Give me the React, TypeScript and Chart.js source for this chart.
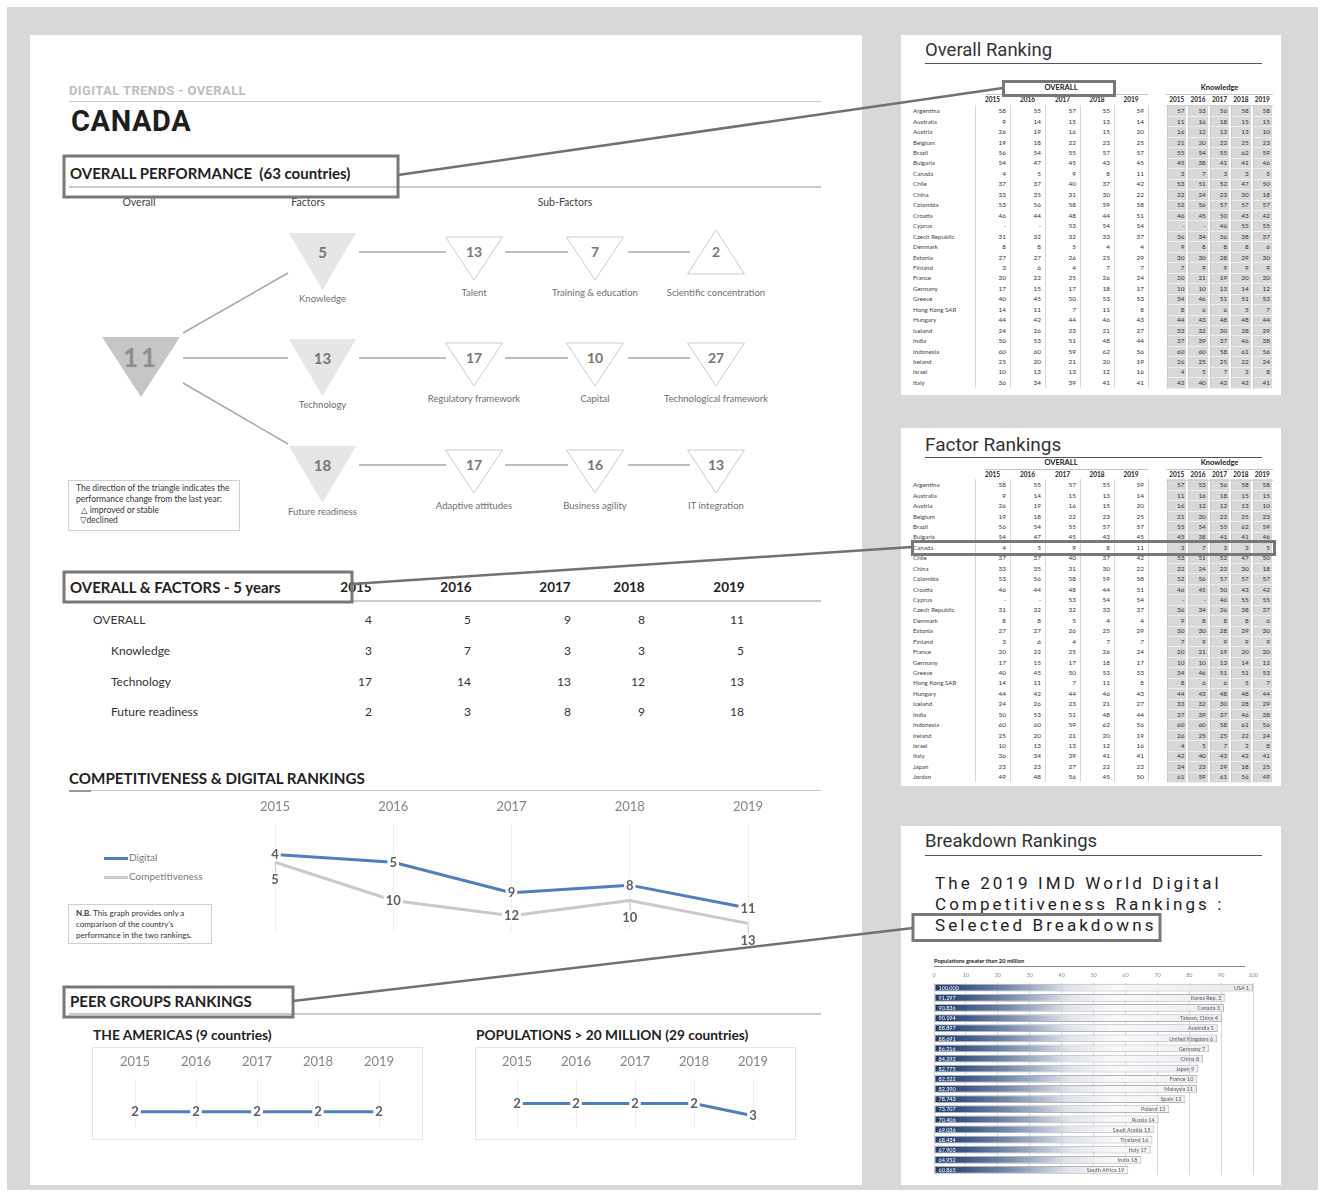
import React, { useEffect, useRef } from 'react';
import { Chart, registerables } from 'chart.js';
Chart.register(...registerables);

const GILL = "Lato, 'Open Sans', 'DejaVu Sans', sans-serif";
const DIN = "Roboto, 'DejaVu Sans', sans-serif";

// ---------- DATA ----------
const YEARS = ['2015', '2016', '2017', '2018', '2019'];
const DIGITAL_RANKS = [4, 5, 9, 8, 11];
const COMPETITIVENESS_RANKS = [5, 10, 12, 10, 13];
const AMERICAS_RANKS = [2, 2, 2, 2, 2];
const POP20M_RANKS = [2, 2, 2, 2, 3];

const FIVE_YEAR_ROWS = ['OVERALL', 'Knowledge', 'Technology', 'Future readiness'];
const FIVE_YEAR_VALUES = [
  [4, 5, 9, 8, 11],
  [3, 7, 3, 3, 5],
  [17, 14, 13, 12, 13],
  [2, 3, 8, 9, 18],
];

const OVERALL_RANK = 11;
const FACTOR_NAMES = ['Knowledge', 'Technology', 'Future readiness'];
const FACTOR_RANKS = [5, 13, 18];
const SUBFACTOR_NAMES = [
  ['Talent', 'Training & education', 'Scientific concentration'],
  ['Regulatory framework', 'Capital', 'Technological framework'],
  ['Adaptive attitudes', 'Business agility', 'IT integration'],
];
const SUBFACTOR_RANKS = [
  [13, 7, 2],
  [17, 10, 27],
  [17, 16, 13],
];
const SUBFACTOR_IMPROVED = [
  [false, false, true],
  [false, false, false],
  [false, false, false],
];

const COUNTRIES = [
  'Argentina', 'Australia', 'Austria', 'Belgium', 'Brazil', 'Bulgaria', 'Canada', 'Chile', 'China',
  'Colombia', 'Croatia', 'Cyprus', 'Czech Republic', 'Denmark', 'Estonia', 'Finland', 'France',
  'Germany', 'Greece', 'Hong Kong SAR', 'Hungary', 'Iceland', 'India', 'Indonesia', 'Ireland',
  'Israel', 'Italy', 'Japan', 'Jordan',
];
const OVERALL_TABLE: (number | null)[][] = [
  [58, 55, 57, 55, 59], [9, 14, 15, 13, 14], [26, 19, 16, 15, 20], [19, 18, 22, 23, 25],
  [56, 54, 55, 57, 57], [54, 47, 45, 43, 45], [4, 5, 9, 8, 11], [37, 37, 40, 37, 42],
  [33, 35, 31, 30, 22], [53, 56, 58, 59, 58], [46, 44, 48, 44, 51], [null, null, 53, 54, 54],
  [31, 32, 32, 33, 37], [8, 8, 5, 4, 4], [27, 27, 26, 25, 29], [3, 6, 4, 7, 7],
  [20, 22, 25, 26, 24], [17, 15, 17, 18, 17], [40, 45, 50, 53, 53], [14, 11, 7, 11, 8],
  [44, 42, 44, 46, 43], [24, 26, 23, 21, 27], [50, 53, 51, 48, 44], [60, 60, 59, 62, 56],
  [25, 20, 21, 20, 19], [10, 13, 13, 12, 16], [36, 34, 39, 41, 41], [23, 23, 27, 22, 23],
  [49, 48, 56, 45, 50],
];
const KNOWLEDGE_TABLE: (number | null)[][] = [
  [57, 53, 56, 58, 58], [11, 16, 18, 15, 15], [16, 12, 12, 13, 10], [21, 20, 22, 25, 23],
  [55, 54, 55, 62, 59], [45, 38, 41, 41, 46], [3, 7, 3, 3, 5], [53, 51, 52, 47, 50],
  [22, 24, 23, 30, 18], [52, 56, 57, 57, 57], [46, 45, 50, 43, 42], [null, null, 46, 55, 55],
  [36, 34, 36, 38, 37], [9, 8, 8, 8, 6], [30, 30, 28, 29, 30], [7, 9, 9, 9, 9],
  [20, 21, 19, 20, 20], [10, 10, 13, 14, 12], [34, 46, 51, 51, 53], [8, 6, 6, 5, 7],
  [44, 43, 48, 48, 44], [33, 32, 30, 28, 29], [37, 39, 37, 46, 38], [60, 60, 58, 61, 56],
  [26, 25, 25, 22, 24], [4, 5, 7, 2, 8], [42, 40, 42, 42, 41], [24, 23, 29, 18, 25],
  [61, 59, 61, 56, 49],
];

const BD_NAMES = [
  'USA', 'Korea Rep.', 'Canada', 'Taiwan, China', 'Australia', 'United Kingdom', 'Germany', 'China',
  'Japan', 'France', 'Malaysia', 'Spain', 'Poland', 'Russia', 'Saudi Arabia', 'Thailand', 'Italy',
  'India', 'South Africa',
];
const BD_RANKS = [1, 2, 3, 4, 5, 6, 7, 8, 9, 10, 11, 12, 13, 14, 15, 16, 17, 18, 19];
const BD_SCORES = [
  100.0, 91.297, 90.836, 90.194, 88.897, 88.691, 86.216, 84.292, 82.775, 82.522, 82.39, 78.743,
  73.707, 70.406, 69.036, 68.434, 67.903, 64.952, 60.865,
];
const BD_TICKS = [0, 10, 20, 30, 40, 50, 60, 70, 80, 90, 100];

// ---------- helpers ----------
function T(props: any) {
  const { x, y, s, w = 400, c = '#333', f = GILL, a = 'left', ls, children, style } = props;
  const tx = a === 'left' ? '0' : a === 'center' ? '-50%' : '-100%';
  return (
    <div
      style={{
        position: 'absolute', left: x, top: y, transform: `translate(${tx}, -50%)`,
        fontSize: s, fontWeight: w, color: c, fontFamily: f, whiteSpace: 'nowrap',
        lineHeight: 1.15, letterSpacing: ls, ...style,
      }}
    >
      {children}
    </div>
  );
}

function Box(props: any) {
  const { x, y, w, h, style } = props;
  return <div style={{ position: 'absolute', left: x, top: y, width: w, height: h, ...style }} />;
}

function makePointLabels(o: { font: string; color: string; minGap: number; shift: number; boxH: number }) {
  return {
    id: 'pointLabels',
    afterDatasetsDraw(chart: any) {
      const ctx = chart.ctx;
      ctx.save();
      ctx.font = o.font;
      ctx.textAlign = 'center';
      ctx.textBaseline = 'middle';
      const base = chart.getDatasetMeta(0).data;
      chart.data.datasets.forEach((ds: any, di: number) => {
        const pts = chart.getDatasetMeta(di).data;
        pts.forEach((pt: any, j: number) => {
          const text = String(ds.data[j]);
          let y = pt.y;
          const shifted = di > 0 && Math.abs(base[j].y - pt.y) < o.minGap;
          if (shifted) y = pt.y + o.shift;
          const w = ctx.measureText(text).width + 4;
          if (shifted) {
            ctx.strokeStyle = '#c4c4c4';
            ctx.lineWidth = 1;
            ctx.beginPath();
            ctx.moveTo(pt.x, pt.y + 2);
            ctx.lineTo(pt.x + 1, y - o.boxH / 2);
            ctx.stroke();
          }
          ctx.fillStyle = '#ffffff';
          ctx.fillRect(pt.x - w / 2, y - o.boxH / 2, w, o.boxH);
          ctx.fillStyle = o.color;
          ctx.fillText(text, pt.x, y + 0.5);
        });
      });
      ctx.restore();
    },
  };
}

function LineCanvas(props: any) {
  const { left, top, width, height, datasets, min, max, padding, tickPad, axisH, minGap = 0, shift = 0 } = props;
  const ref = useRef<HTMLCanvasElement>(null);
  useEffect(() => {
    const chart = new Chart(ref.current as HTMLCanvasElement, {
      type: 'line',
      data: { labels: YEARS, datasets },
      options: {
        animation: false,
        responsive: false,
        layout: { padding },
        plugins: { legend: { display: false }, tooltip: { enabled: false } },
        elements: { point: { radius: 0 }, line: { tension: 0 } },
        scales: {
          x: {
            position: 'top',
            offset: false,
            afterFit: (s: any) => { s.height = axisH; },
            grid: { color: '#efefef', drawTicks: false, lineWidth: 1 },
            border: { display: false },
            ticks: { font: { family: GILL, size: 13 }, color: '#858585', padding: tickPad },
          },
          y: { display: false, reverse: true, min, max },
        },
      } as any,
      plugins: [makePointLabels({ font: `bold 13px ${GILL}`, color: '#5f5f5f', minGap, shift, boxH: 13 })],
    });
    return () => chart.destroy();
  }, []);
  return (
    <canvas ref={ref} width={width} height={height}
      style={{ position: 'absolute', left, top, width, height }} />
  );
}

function BreakdownChart() {
  const ref = useRef<HTMLCanvasElement>(null);
  useEffect(() => {
    const barLabels = {
      id: 'barLabels',
      afterDatasetsDraw(chart: any) {
        const ctx = chart.ctx;
        const meta = chart.getDatasetMeta(0);
        ctx.save();
        ctx.font = `5.5px ${GILL}`;
        ctx.textBaseline = 'middle';
        meta.data.forEach((bar: any, i: number) => {
          ctx.fillStyle = '#ffffff';
          ctx.textAlign = 'left';
          ctx.fillText(BD_SCORES[i].toFixed(3), bar.base + 4, bar.y + 0.5);
          ctx.fillStyle = '#5a5a5a';
          ctx.textAlign = 'right';
          ctx.fillText(`${BD_NAMES[i]} ${BD_RANKS[i]}`, bar.x - 4, bar.y + 0.5);
        });
        ctx.restore();
      },
    };
    const chart = new Chart(ref.current as HTMLCanvasElement, {
      type: 'bar',
      data: {
        labels: BD_NAMES,
        datasets: [
          {
            data: BD_SCORES,
            backgroundColor: (c: any) => {
              const area = c.chart.chartArea;
              if (!area) return '#2e4b7b';
              const g = c.chart.ctx.createLinearGradient(area.left, 0, area.right, 0);
              g.addColorStop(0, '#1f3c6b');
              g.addColorStop(0.06, '#2d4a7b');
              g.addColorStop(0.22, '#7185a8');
              g.addColorStop(0.42, '#dfe3eb');
              g.addColorStop(0.56, '#f7f8fa');
              g.addColorStop(1, '#e6e9ef');
              return g;
            },
            borderColor: '#b3b3b3',
            borderWidth: 1,
            borderSkipped: false,
            barPercentage: 0.76,
            categoryPercentage: 1,
          },
        ],
      },
      options: {
        animation: false,
        responsive: false,
        indexAxis: 'y',
        layout: { padding: { left: 9, right: 8, top: 4, bottom: 3 } },
        plugins: { legend: { display: false }, tooltip: { enabled: false } },
        scales: {
          x: {
            position: 'top',
            min: 0,
            max: 100,
            afterBuildTicks: (s: any) => { s.ticks = BD_TICKS.map((v) => ({ value: v })); },
            afterFit: (s: any) => { s.height = 10.6; },
            grid: { color: '#d9d9d9', drawTicks: false },
            border: { display: false },
            ticks: { font: { family: GILL, size: 5.5 }, color: '#8a8a8a', padding: 4 },
          },
          y: { display: false },
        },
      } as any,
      plugins: [barLabels],
    });
    return () => chart.destroy();
  }, []);
  return (
    <canvas ref={ref} width={337} height={210}
      style={{ position: 'absolute', left: 925, top: 968, width: 337, height: 210 }} />
  );
}

function Tree() {
  const rowTops = [233, 339, 446];
  const subX = [474, 595, 716];
  const line = '#a8a8a8';
  const els: any[] = [];
  els.push(<polygon key="big" points="102,337 180,337 141,397" fill="#c6c6c6" />);
  els.push(
    <text key="bigt" x={141} y={367} textAnchor="middle" fontFamily={GILL} fontWeight={700}
      fontSize={26} fill="#8e8e8e" letterSpacing={3}>{OVERALL_RANK}</text>
  );
  els.push(<line key="c1" x1={183} y1={333} x2={288} y2={273} stroke={line} strokeWidth={1.5} />);
  els.push(<line key="c2" x1={183} y1={358} x2={288} y2={358} stroke={line} strokeWidth={1.5} />);
  els.push(<line key="c3" x1={183} y1={383} x2={288} y2={444} stroke={line} strokeWidth={1.5} />);
  FACTOR_NAMES.forEach((name, r) => {
    const t = rowTops[r];
    const cy = t + 19;
    els.push(<polygon key={'f' + r} points={`289,${t} 356,${t} 322.5,${t + 57}`} fill="#e6e6e6" />);
    els.push(
      <text key={'ft' + r} x={322.5} y={cy + 5.5} textAnchor="middle" fontFamily={GILL} fontWeight={700}
        fontSize={15} fill="#767676">{FACTOR_RANKS[r]}</text>
    );
    els.push(
      <text key={'fn' + r} x={322.5} y={t + 69} textAnchor="middle" fontFamily={GILL}
        fontSize={9.5} fill="#6f6f6f">{name}</text>
    );
    els.push(<line key={'h1' + r} x1={359} y1={cy} x2={446} y2={cy} stroke={line} strokeWidth={1.5} />);
    els.push(<line key={'h2' + r} x1={505} y1={cy} x2={568} y2={cy} stroke={line} strokeWidth={1.5} />);
    els.push(<line key={'h3' + r} x1={628} y1={cy} x2={690} y2={cy} stroke={line} strokeWidth={1.5} />);
    SUBFACTOR_NAMES[r].forEach((sn, k) => {
      const x = subX[k];
      const up = SUBFACTOR_IMPROVED[r][k];
      const pts = up
        ? `${x - 28.5},${t + 41} ${x + 28.5},${t + 41} ${x},${t - 3}`
        : `${x - 28.5},${t + 4} ${x + 28.5},${t + 4} ${x},${t + 47}`;
      els.push(<polygon key={`s${r}${k}`} points={pts} fill="#ffffff" stroke="#cbcbcb" strokeWidth={1} />);
      els.push(
        <text key={`st${r}${k}`} x={x} y={cy + 5} textAnchor="middle" fontFamily={GILL} fontWeight={700}
          fontSize={14} fill="#777777">{SUBFACTOR_RANKS[r][k]}</text>
      );
      els.push(
        <text key={`sn${r}${k}`} x={x} y={t + 63} textAnchor="middle" fontFamily={GILL}
          fontSize={9.5} fill="#6f6f6f">{sn}</text>
      );
    });
  });
  return (
    <svg style={{ position: 'absolute', left: 0, top: 0 }} width={1324} height={1196}>
      {els}
    </svg>
  );
}

function RankTable(props: any) {
  const { n, rowTop, rowH, headY, yearsY } = props;
  const ov = [975, 1010, 1045, 1080, 1114, 1148];
  const kn = [1166, 1187.4, 1208.8, 1230.2, 1251.6, 1273];
  const bottom = rowTop + n * rowH;
  const els: any[] = [];
  els.push(<T key="ovh" x={1061} y={headY} s={7.5} w={700} a="center" c="#222">OVERALL</T>);
  els.push(<T key="knh" x={1219.5} y={headY} s={7.5} w={700} a="center" c="#222">Knowledge</T>);
  els.push(<Box key="ovl" x={985} y={headY + 6} w={163} h={1} style={{ background: '#c4c4c4' }} />);
  els.push(<Box key="knl" x={1166} y={headY + 6} w={107} h={1} style={{ background: '#c4c4c4' }} />);
  YEARS.forEach((yr, k) => {
    els.push(<T key={'oy' + k} x={(ov[k] + ov[k + 1]) / 2} y={yearsY} s={6.5} w={700} a="center" c="#222">{yr}</T>);
    els.push(<T key={'ky' + k} x={(kn[k] + kn[k + 1]) / 2} y={yearsY} s={6.5} w={700} a="center" c="#222">{yr}</T>);
    els.push(
      <Box key={'kc' + k} x={kn[k] + 1} y={rowTop - 1} w={kn[k + 1] - kn[k] - 2} h={bottom - rowTop + 1}
        style={{ background: '#d8d8d8', borderLeft: '1px solid #c9c9c9', boxSizing: 'border-box' }} />
    );
  });
  els.push(<Box key="kyl" x={1166} y={yearsY + 5} w={107} h={1} style={{ background: '#cfcfcf' }} />);
  ov.forEach((e, k) =>
    els.push(<Box key={'os' + k} x={e - 0.5} y={rowTop - 1} w={1.5} h={bottom - rowTop + 1} style={{ background: '#d8d8d8' }} />)
  );
  for (let i = 0; i < n; i++) {
    const cy = rowTop + (i + 0.5) * rowH;
    els.push(<Box key={'rl' + i} x={1166} y={rowTop + (i + 1) * rowH - 0.5} w={107} h={1} style={{ background: '#eeeeee' }} />);
    els.push(<T key={'c' + i} x={913} y={cy} s={6.2} c="#444">{COUNTRIES[i]}</T>);
    for (let k = 0; k < 5; k++) {
      const v = OVERALL_TABLE[i][k];
      const kv = KNOWLEDGE_TABLE[i][k];
      els.push(<T key={`o${i}_${k}`} x={ov[k + 1] - 4} y={cy} s={6.4} a="right" c="#333">{v === null ? '-' : v}</T>);
      els.push(<T key={`k${i}_${k}`} x={kn[k + 1] - 3} y={cy} s={6.4} a="right" c="#333">{kv === null ? '-' : kv}</T>);
    }
  }
  return <>{els}</>;
}

export default function App() {
  const hl = { background: '#c9c9c9' };
  return (
    <div style={{ position: 'absolute', left: 0, top: 0, width: 1324, height: 1196, background: '#ffffff', overflow: 'hidden' }}>
      <Box x={7} y={7} w={1311} h={1183} style={{ background: '#d8d8d8' }} />
      <Box x={30} y={35} w={832} h={1150} style={{ background: '#ffffff' }} />
      <Box x={901} y={35} w={380} h={360} style={{ background: '#ffffff' }} />
      <Box x={901} y={428} w={380} h={358} style={{ background: '#ffffff' }} />
      <Box x={901} y={826} w={380} h={359} style={{ background: '#ffffff' }} />

      {/* header */}
      <T x={69} y={91} s={13} w={700} f={DIN} c="#bdbdbd" ls={0.4}>DIGITAL TRENDS - OVERALL</T>
      <Box x={69} y={100.5} w={752} h={1.5} style={hl} />
      <T x={71} y={122} s={29} w={700} f={DIN} c="#1e1e1e" ls={0.6}>CANADA</T>

      <T x={70} y={174} s={15} w={700} c="#222">OVERALL PERFORMANCE&nbsp;&nbsp;(63 countries)</T>
      <Box x={69} y={186} w={752} h={1.5} style={hl} />
      <T x={139} y={202} s={10.5} a="center" c="#444">Overall</T>
      <T x={308} y={202} s={10.5} a="center" c="#444">Factors</T>
      <T x={565} y={202} s={10.5} a="center" c="#444">Sub-Factors</T>

      <Tree />

      <Box x={68} y={480} w={172} h={51} style={{ border: '1px solid #cfcfcf', boxSizing: 'border-box' }} />
      <T x={76} y={489} s={8.5} c="#333">The direction of the triangle indicates the</T>
      <T x={76} y={500} s={8.5} c="#333">performance change from the last year:</T>
      <T x={81} y={511} s={8.5} c="#333">△ improved or stable</T>
      <T x={80} y={521} s={8.5} c="#333">▽declined</T>

      {/* overall & factors */}
      <T x={70} y={588} s={15} w={700} c="#222">OVERALL &amp; FACTORS - 5 years</T>
      <Box x={352} y={599.5} w={469} h={2} style={hl} />
      {YEARS.map((yr, k) => (
        <T key={'fy' + k} x={[356, 456, 555, 629, 729][k]} y={588} s={13.5} w={700} a="center" c="#222">{yr}</T>
      ))}
      {FIVE_YEAR_ROWS.map((r, i) => (
        <React.Fragment key={'fr' + i}>
          <T x={i === 0 ? 93 : 111} y={[620, 651, 682, 712][i]} s={12} c="#333">{r}</T>
          {FIVE_YEAR_VALUES[i].map((v, k) => (
            <T key={'fv' + k} x={[372, 471, 571, 645, 744][k]} y={[620, 651, 682, 712][i]} s={12} a="right" c="#333">{v}</T>
          ))}
        </React.Fragment>
      ))}

      {/* competitiveness & digital */}
      <T x={69} y={779} s={15.2} w={700} c="#222">COMPETITIVENESS &amp; DIGITAL RANKINGS</T>
      <Box x={69} y={789.5} w={752} h={1.5} style={hl} />
      <Box x={69} y={789.5} w={22} h={2} style={{ background: '#9a9a9a' }} />
      <LineCanvas
        left={240} top={795} width={550} height={150}
        min={0} max={14}
        padding={{ left: 35, right: 42, top: 3, bottom: 14 }}
        tickPad={9.5} axisH={26}
        minGap={16} shift={17}
        datasets={[
          { label: 'Digital', data: DIGITAL_RANKS, borderColor: '#4f7fbe', borderWidth: 3 },
          { label: 'Competitiveness', data: COMPETITIVENESS_RANKS, borderColor: '#c9c9c9', borderWidth: 3 },
        ]}
      />
      <Box x={104} y={857} w={24} h={3} style={{ background: '#4f7fbe' }} />
      <T x={129} y={858} s={10} c="#7a7a7a">Digital</T>
      <Box x={104} y={876} w={24} h={3} style={{ background: '#c9c9c9' }} />
      <T x={129} y={877} s={10} c="#7a7a7a">Competitiveness</T>
      <Box x={68} y={904} w={144} h={40} style={{ border: '1px solid #cfcfcf', boxSizing: 'border-box' }} />
      <T x={76} y={914} s={8} c="#333"><b>N.B.</b> This graph provides only a</T>
      <T x={76} y={925} s={8} c="#333">comparison of the country's</T>
      <T x={76} y={936} s={8} c="#333">performance in the two rankings.</T>

      {/* peer groups */}
      <T x={70} y={1002} s={15} w={700} c="#222">PEER GROUPS RANKINGS</T>
      <Box x={69} y={1012.5} w={752} h={2} style={hl} />
      <T x={93} y={1035} s={13.8} w={700} c="#222">THE AMERICAS (9 countries)</T>
      <T x={476} y={1035} s={13.7} w={700} c="#222">POPULATIONS &gt; 20 MILLION (29 countries)</T>
      <Box x={92} y={1047} w={331} h={93} style={{ border: '1px solid #dfe5ee', boxSizing: 'border-box' }} />
      <Box x={475} y={1047} w={321} h={93} style={{ border: '1px solid #dfe5ee', boxSizing: 'border-box' }} />
      <LineCanvas
        left={93} top={1048} width={329} height={91}
        min={0} max={3}
        padding={{ left: 42, right: 43, top: 5, bottom: 11 }}
        tickPad={9.5} axisH={26}
        datasets={[{ label: 'Americas', data: AMERICAS_RANKS, borderColor: '#4f7fbe', borderWidth: 3 }]}
      />
      <LineCanvas
        left={476} top={1048} width={319} height={91}
        min={0} max={4}
        padding={{ left: 41, right: 42, top: 5, bottom: 11 }}
        tickPad={9.5} axisH={26}
        datasets={[{ label: 'Populations', data: POP20M_RANKS, borderColor: '#4f7fbe', borderWidth: 3 }]}
      />

      {/* Overall Ranking panel */}
      <T x={925} y={51} s={18.5} f={DIN} c="#333">Overall Ranking</T>
      <Box x={925} y={62.5} w={337} h={1.5} style={{ background: '#555' }} />
      <RankTable n={27} rowTop={106} rowH={10.45} headY={88} yearsY={100} />

      {/* Factor Rankings panel */}
      <T x={925} y={445} s={19} f={DIN} c="#333">Factor Rankings</T>
      <Box x={925} y={456.5} w={337} h={1.5} style={{ background: '#555' }} />
      <RankTable n={29} rowTop={480} rowH={10.43} headY={462.5} yearsY={474.5} />

      {/* Breakdown panel */}
      <T x={925} y={842} s={18.5} f={DIN} c="#333">Breakdown Rankings</T>
      <Box x={925} y={854.5} w={337} h={1.5} style={{ background: '#555' }} />
      <T x={935} y={884} s={17} f={DIN} c="#222" ls={3.1}>The 2019 IMD World Digital</T>
      <T x={935} y={905} s={17} f={DIN} c="#222" ls={3.1}>Competitiveness Rankings :</T>
      <T x={935} y={926} s={17} f={DIN} c="#222" ls={3.1}>Selected Breakdowns</T>
      <T x={934} y={961} s={5.8} w={700} c="#222">Populations greater than 20 million</T>
      <Box x={934} y={966} w={311} h={1} style={{ background: '#8a8a8a' }} />
      <BreakdownChart />

      {/* highlight boxes and connectors */}
      <svg style={{ position: 'absolute', left: 0, top: 0 }} width={1324} height={1196}>
        <g fill="none" stroke="#787878" strokeWidth={3}>
          <rect x={64} y={156} width={334} height={41} />
          <rect x={64} y={572} width={288} height={30} />
          <rect x={64} y={987} width={229} height={30} />
          <rect x={1003.5} y={81.5} width={111} height={14} />
          <rect x={912.5} y={541.5} width={362} height={13} />
          <rect x={913} y={914.5} width={247} height={26} />
        </g>
        <g stroke="#717171" strokeWidth={2.5}>
          <line x1={398} y1={175} x2={1003} y2={88} />
          <line x1={352} y1={584} x2={912} y2={547} />
          <line x1={293} y1={1001} x2={913} y2={928} />
        </g>
      </svg>
    </div>
  );
}
